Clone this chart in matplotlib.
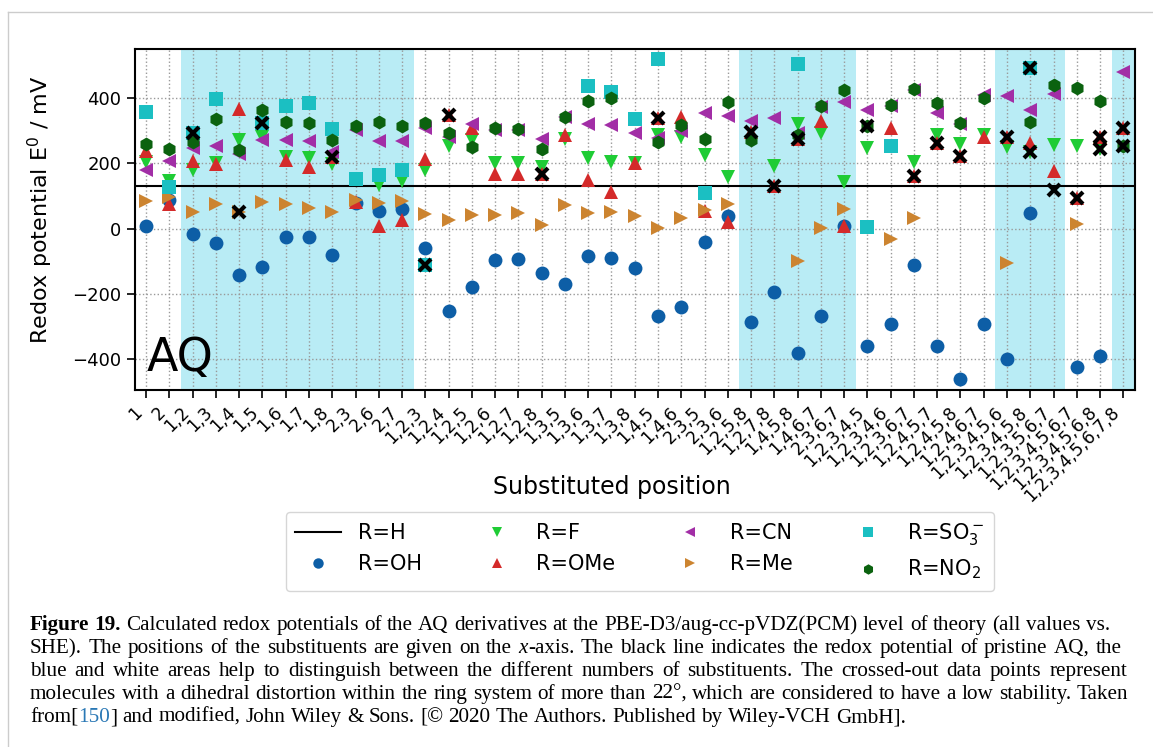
import numpy as np
import matplotlib
matplotlib.use('Agg')
import matplotlib.pyplot as plt
from matplotlib.lines import Line2D

nan = np.nan

# substituted positions (x axis)
positions = ['1', '2', '1,2', '1,3', '1,4', '1,5', '1,6', '1,7', '1,8', '2,3', '2,6', '2,7',
             '1,2,3', '1,2,4', '1,2,5', '1,2,6', '1,2,7', '1,2,8', '1,3,5', '1,3,6', '1,3,7',
             '1,3,8', '1,4,5', '1,4,6', '2,3,5', '2,3,6',
             '1,2,5,8', '1,2,7,8', '1,4,5,8', '1,4,6,7', '2,3,6,7',
             '1,2,3,4,5', '1,2,3,4,6', '1,2,3,6,7', '1,2,4,5,7', '1,2,4,5,8', '1,2,4,6,7',
             '1,2,3,4,5,6', '1,2,3,4,5,8', '1,2,3,5,6,7',
             '1,2,3,4,5,6,7', '1,2,3,4,5,6,8', '1,2,3,4,5,6,7,8']

# redox potentials / mV
e_h = 130
e_oh = [9, 88, -17, -45, -143, -118, -26, -26, -82, 80, 54, 60,
        -60, -252, -180, -96, -92, -135, -170, -84, -89, -121, -269, -241, -40, 39,
        -285, -193, -380, -267, 9,
        -361, -293, -113, -361, -460, -292,
        -400, 47, nan,
        -425, -392, nan]
e_f = [205, 147, 180, 202, 271, 282, 220, 218, 198, nan, 134, 147,
       180, 253, 271, 200, 200, 190, 276, 218, 205, 202, 287, 282, 225, 157,
       nan, 192, 320, 294, 144,
       246, nan, 203, 287, 259, 287,
       249, 236, 258,
       253, 244, nan]
e_ome = [238, 75, 208, 198, 366, nan, 210, 188, 220, 81, 8, 27,
         213, 348, 310, 167, 167, 167, 287, 149, 113, 200, 340, 341, 55, 21,
         297, 131, 274, 330, 9,
         nan, 310, 161, 263, 222, 280,
         282, 263, 177,
         95, 282, 309]
e_cn = [180, 208, 246, 254, 229, 271, 273, 269, 236, 302, 269, 269,
        310, 282, 322, 302, 304, 276, 341, 320, 319, 292, 279, 300, 355, 346,
        330, 338, 292, 373, 389,
        365, 377, 426, 355, 322, 409,
        406, 363, 414,
        nan, nan, 479]
e_me = [86, 98, 52, 74, 50, 81, 74, 64, 50, 88, 78, 85,
        45, 26, 42, 42, 47, 11, 72, 49, 52, 40, 1, 32, 57, 74,
        nan, nan, -99, 1, 60,
        nan, -33, 32, nan, nan, nan,
        -104, nan, nan,
        13, nan, nan]
e_so3 = [358, 129, 294, 399, nan, 325, 375, 384, 305, 151, 164, 180,
         -111, nan, nan, nan, nan, nan, nan, 438, 419, 337, 519, nan, 110, nan,
         nan, nan, 506, nan, nan,
         4, 253, nan, nan, nan, nan,
         nan, 493, nan,
         nan, nan, nan]
e_no2 = [261, 244, 266, 335, 241, 363, 327, 323, 271, 314, 327, 314,
         324, 292, 251, 310, 307, 243, 341, 392, 401, nan, 266, 319, 276, 389,
         271, nan, 287, 375, 424,
         316, 378, 429, 384, 324, 401,
         nan, 327, 442,
         430, 392, 254]

# crossed-out points (position index, value)
crossed_idx = [2, 4, 5, 8, 12, 13, 17, 22, 26, 27, 28, 31, 33, 34, 35, 37, 38, 38, 39, 40, 41, 41, 42, 42]
crossed_val = [294, 50, 325, 220, -111, 348, 167, 340, 297, 131, 274, 316, 161, 263, 222, 282,
               493, 236, 118, 95, 282, 244, 309, 254]

# groups with the same number of substituents that get a blue band
bands = [(1.5, 11.5), (25.5, 30.5), (36.5, 39.5), (41.5, 43.0)]

W, H = 1153, 747
fig = plt.figure(figsize=(W / 100, H / 100), dpi=100)
ax = fig.add_axes([134.5 / W, 1 - 390 / H, 1000.5 / W, 340.7 / H])

x = np.arange(len(positions))
for a, b in bands:
    ax.axvspan(a, b, color='#b9ecf5', lw=0, zorder=0)

hline = ax.axhline(e_h, color='black', lw=1.5, zorder=2, label='R=H')

series = [
    (e_oh, 'o', '#0d5ea6', 'R=OH'),
    (e_f, 'v', '#1fcc35', 'R=F'),
    (e_ome, '^', '#d42a2a', 'R=OMe'),
    (e_cn, '<', '#a22ea6', 'R=CN'),
    (e_me, '>', '#cc8430', 'R=Me'),
    (e_so3, 's', '#1bbfc2', 'R=SO$_3^-$'),
    (e_no2, 'h', '#0b620f', 'R=NO$_2$'),
]
handles = [hline]
for vals, m, c, lab in series:
    ln, = ax.plot(x, vals, ls='none', marker=m, color=c, ms=10, mew=0, label=lab, zorder=3)
    handles.append(ln)

ax.plot(crossed_idx, crossed_val, ls='none', marker='x', color='black', ms=8, mew=3, zorder=4)

ax.set_xlim(-0.5, 42.5)
ax.set_ylim(-495, 550)
ax.set_xticks(x)
ax.set_xticklabels(positions, rotation=45, ha='right', fontsize=12.5)
ax.set_yticks([-400, -200, 0, 200, 400])
ax.tick_params(axis='y', labelsize=13)
ax.tick_params(direction='out', length=6, width=1.2)
ax.grid(True, linestyle=':', color='#999999', lw=1)
ax.set_axisbelow(True)
for s in ax.spines.values():
    s.set_linewidth(1.5)

ax.set_ylabel('Redox potential E$^0$ / mV', fontsize=16)
ax.yaxis.set_label_coords((55 - 134.5) / 1000.5, (390 - 210) / 340.7)
ax.set_xlabel('Substituted position', fontsize=17)
ax.xaxis.set_label_coords((612 - 134.5) / 1000.5, (390 - 487) / 340.7)
ax.xaxis.label.set_va('center')
ax.text(0.012, 0.025, 'AQ', transform=ax.transAxes, fontsize=33, va='bottom')

fig.legend(handles, [h.get_label() for h in handles], loc='upper center',
           bbox_to_anchor=(640 / W, 1 - 512 / H), borderaxespad=0, ncol=4, fontsize=15,
           markerscale=0.75, handlelength=2.2, columnspacing=2.5, borderpad=0.45,
           labelspacing=0.5)

# frame of the page
fig.add_artist(Line2D([8 / W, 8 / W], [0, 1 - 12 / H], color='#cccccc', lw=1))
fig.add_artist(Line2D([8 / W, 1], [1 - 12 / H, 1 - 12 / H], color='#cccccc', lw=1))

# caption, drawn word by word so the lines can be justified
renderer = fig.canvas.get_renderer()
serif = 'Liberation Serif'


def width_px(txt, size, kw):
    t1 = fig.text(0, 0, txt + '|', fontsize=size, family=serif, **kw)
    t2 = fig.text(0, 0, '|', fontsize=size, family=serif, **kw)
    w = t1.get_window_extent(renderer).width - t2.get_window_extent(renderer).width
    t1.remove()
    t2.remove()
    return w


def tokens_of(pieces):
    toks = []
    gap = False
    for txt, kw in pieces:
        for j, p in enumerate(txt.split(' ')):
            if j > 0:
                gap = True
            if p == '':
                continue
            toks.append((p, kw, gap and len(toks) > 0))
            gap = False
    return toks


plain = {}
lines = [
    [('Figure 19.', {'weight': 'bold'}),
     (' Calculated redox potentials of the AQ derivatives at the PBE-D3/aug-cc-pVDZ(PCM) level of theory (all values vs.', plain)],
    [('SHE). The positions of the substituents are given on the ', plain), ('x', {'style': 'italic'}),
     ('-axis. The black line indicates the redox potential of pristine AQ, the', plain)],
    [('blue and white areas help to distinguish between the different numbers of substituents. The crossed-out data points represent', plain)],
    [('molecules with a dihedral distortion within the ring system of more than 22°, which are considered to have a low stability. Taken', plain)],
    [('from[', plain), ('150', {'color': '#2a78b5'}),
     ('] and modified, John Wiley & Sons. [© 2020 The Authors. Published by Wiley-VCH GmbH].', plain)],
]
left = 30
right_ends = [1110, 1122, 1127, 1128, None]
baselines = [630, 653, 676, 699, 722]

token_lines = [tokens_of(p) for p in lines]


def natural(toks, size):
    sw = width_px(' ', size, plain)
    return sum(width_px(t, size, kw) for t, kw, g in toks) + sw * sum(g for _, _, g in toks)


size = 14 * min((r - left) / natural(t, 14) for t, r in zip(token_lines, right_ends) if r)
space = width_px(' ', size, plain)
for toks, r, yb in zip(token_lines, right_ends, baselines):
    ws = [width_px(t, size, kw) for t, kw, g in toks]
    ngap = sum(g for _, _, g in toks)
    gap_w = (r - left - sum(ws)) / ngap if r else space
    xp = left
    for (t, kw, g), w in zip(toks, ws):
        if g:
            xp += gap_w
        fig.text(xp / W, 1 - yb / H, t, fontsize=size, family=serif, va='baseline', **kw)
        xp += w

fig.savefig('out.png', dpi=100)
